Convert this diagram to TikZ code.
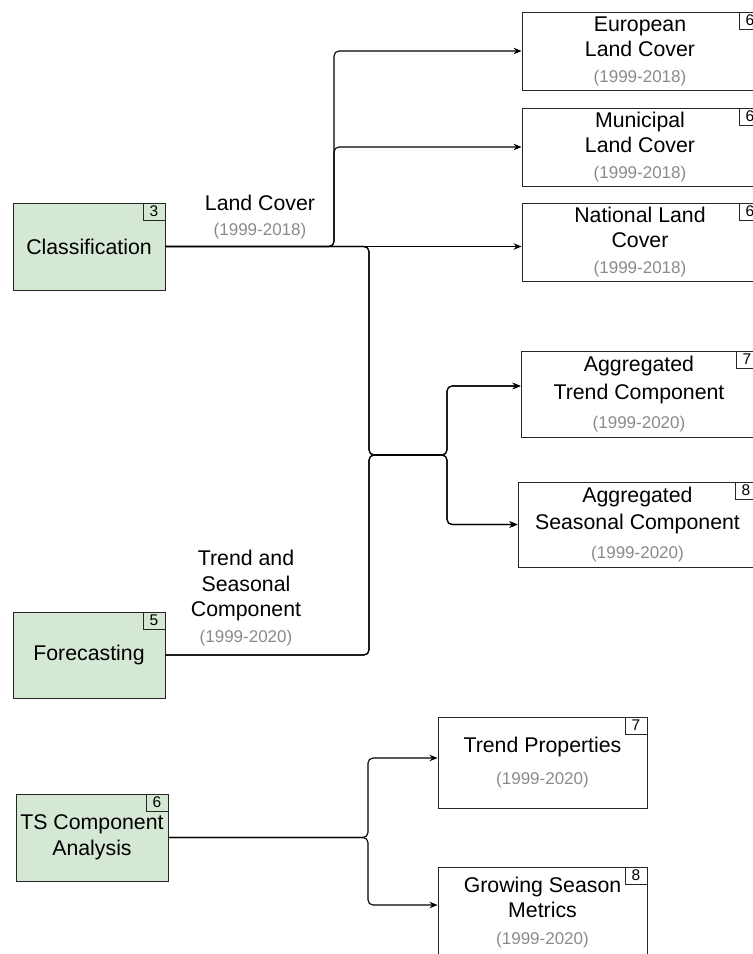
\documentclass[tikz,border=0pt]{standalone}
\usepackage{fontspec}
\setmainfont{Liberation Sans}
\usetikzlibrary{arrows.meta}
\definecolor{boxgreen}{HTML}{D5E8D4}
\definecolor{yrgray}{HTML}{8A8A8A}
\newcommand{\yr}[1]{{\fontsize{17}{20}\selectfont\color{yrgray}#1}}
\begin{document}
\begin{tikzpicture}[x=1pt,y=-1pt,
  box/.style={draw=black!85, line width=0.9pt, rectangle, inner sep=0pt, align=center, font=\fontsize{21.3}{25.5}\selectfont},
  proc/.style={box, fill=boxgreen},
  num/.style={draw=black!85, line width=0.9pt, minimum width=22pt, minimum height=17pt, inner sep=0pt, font=\fontsize{15.5}{15.5}\selectfont, anchor=north east},
  edge/.style={draw=black, line width=1.1pt, rounded corners=5pt},
  arr/.style={edge, -{Stealth[length=8pt,width=6.5pt]}},
  lbl/.style={align=center, font=\fontsize{21.3}{25}\selectfont}
]
\useasboundingbox (0,0) rectangle (753,954);
\clip (0,0) rectangle (753,954);

% process boxes
\node[proc, minimum width=152pt, minimum height=87pt] (cls) at (89,246.5) {Classification};
\node[num] (ncls) at (cls.north east) {3};
\node[proc, minimum width=152pt, minimum height=86pt] (fore) at (89,655) {Forecasting};
\node[num] (nfore) at (fore.north east) {5};
\node[proc, minimum width=152pt, minimum height=87pt] (tsca) at (92,837.5) {TS Component\\Analysis};
\node[num] (ntsca) at (tsca.north east) {6};

% product boxes
\node[box, minimum width=236pt, minimum height=78pt] (eu) at (640,51) {European\\Land Cover\\\yr{(1999-2018)}};
\node[num, xshift=3pt] (neu) at (eu.north east) {6};
\node[box, minimum width=236pt, minimum height=78pt] (mun) at (640,147) {Municipal\\Land Cover\\\yr{(1999-2018)}};
\node[num, xshift=3pt] (nmun) at (mun.north east) {6};
\node[box, minimum width=236pt, minimum height=78pt] (nat) at (640,242) {National Land\\Cover\\\yr{(1999-2018)}};
\node[num, xshift=3pt] (nnat) at (nat.north east) {6};
\node[box, minimum width=236pt, minimum height=86pt] (agt) at (639,394) {Aggregated\\[3pt]Trend Component\\[3pt]\yr{(1999-2020)}};
\node[num, xshift=1pt] (nagt) at (agt.north east) {7};
\node[box, minimum width=239pt, minimum height=85pt] (ags) at (637.5,524.5) {Aggregated\\[2pt]Seasonal Component\\[3pt]\yr{(1999-2020)}};
\node[num] (nags) at (ags.north east) {8};
\node[box, minimum width=209pt, minimum height=91pt] (tp) at (542.5,762.5) {Trend Properties\\[7pt]\yr{(1999-2020)}};
\node[num] (ntp) at (tp.north east) {7};
\node[box, minimum width=209pt, minimum height=91pt] (gsm) at (542.5,912.5) {Growing Season\\Metrics\\[1pt]\yr{(1999-2020)}};
\node[num] (ngsm) at (gsm.north east) {8};

% edge labels
\node[lbl] (lc) at (260,217.5) {Land Cover\\\yr{(1999-2018)}};
\node[lbl] (tsc) at (246,598) {Trend and\\[1pt]Seasonal\\Component\\[1pt]\yr{(1999-2020)}};

% junctions
\coordinate (j1) at (334,246.5);
\coordinate (j2) at (369,455);
\coordinate (j3) at (447,455);
\coordinate (j4) at (368,837);
\coordinate (tAgt) at (0,386);
\coordinate (tTp) at (0,758);
\coordinate (tGsm) at (0,905);

% connectors
\draw[arr] (cls.east) -- (j1) |- (eu.west);
\draw[arr] (cls.east) -- (j1) |- (mun.west);
\draw[arr] (cls.east) -- (cls.east -| nat.west);
\draw[arr] (cls.east) -| (j2) -- (j3) |- (agt.west |- tAgt);
\draw[arr] (cls.east) -| (j2) -- (j3) |- (ags.west);
\draw[arr] (fore.east) -| (j2) -- (j3) |- (agt.west |- tAgt);
\draw[arr] (fore.east) -| (j2) -- (j3) |- (ags.west);
\draw[arr] (tsca.east) -- (tsca.east -| j4) |- (tp.west |- tTp);
\draw[arr] (tsca.east) -- (tsca.east -| j4) |- (gsm.west |- tGsm);
\end{tikzpicture}
\end{document}
